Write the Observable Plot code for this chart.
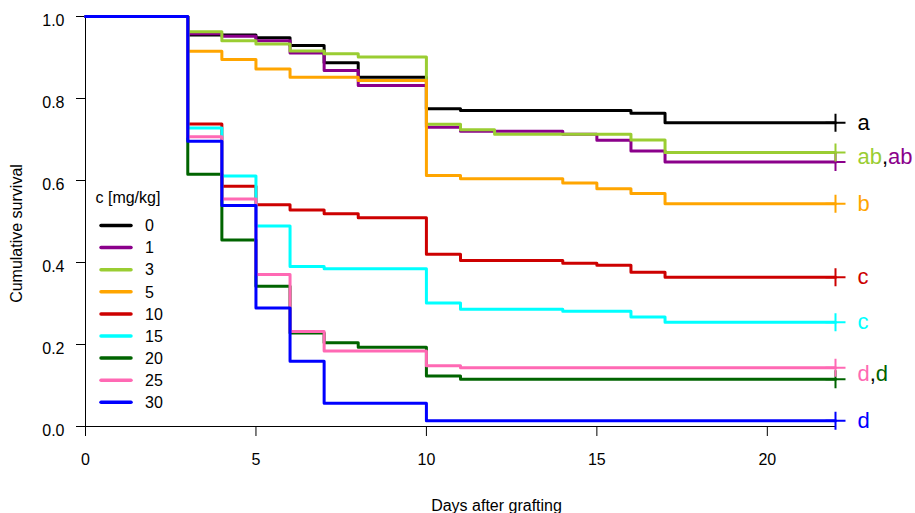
<!DOCTYPE html>
<html><head><meta charset="utf-8">
<script src="https://cdn.jsdelivr.net/npm/d3@7"></script>
<script src="https://cdn.jsdelivr.net/npm/@observablehq/plot@0.6"></script>
<style>body{margin:0;background:#fff}#chart{width:915px;height:513px}</style>
</head><body><div id="chart"></div>
<script>
// Time points (days after grafting) at which survival steps
const days = [0, 3, 4, 5, 6, 7, 8, 10, 11, 12, 14, 15, 16, 17, 22];
// Concentrations c [mg/kg]
const conc = ["0", "1", "3", "5", "10", "15", "20", "25", "30"];
const colors = ["#000000", "#8B008B", "#9ACD32", "#FFA500", "#CD0000", "#00FFFF", "#006400", "#FF69B4", "#0000FF"];
// Cumulative survival per concentration
const s0  = [1, 0.955, 0.955, 0.948, 0.929, 0.887, 0.852, 0.775, 0.771, 0.771, 0.771, 0.771, 0.764, 0.741, 0.741];
const s1  = [1, 0.958, 0.952, 0.941, 0.911, 0.868, 0.832, 0.730, 0.720, 0.720, 0.713, 0.698, 0.672, 0.645, 0.645];
const s3  = [1, 0.963, 0.941, 0.933, 0.916, 0.909, 0.901, 0.737, 0.724, 0.713, 0.713, 0.713, 0.699, 0.668, 0.668];
const s5  = [1, 0.915, 0.895, 0.872, 0.852, 0.852, 0.844, 0.612, 0.604, 0.604, 0.594, 0.580, 0.568, 0.543, 0.543];
const s10 = [1, 0.738, 0.586, 0.541, 0.528, 0.519, 0.509, 0.420, 0.405, 0.405, 0.398, 0.393, 0.376, 0.364, 0.364];
const s15 = [1, 0.728, 0.611, 0.489, 0.390, 0.385, 0.385, 0.301, 0.286, 0.286, 0.281, 0.281, 0.267, 0.254, 0.254];
const s20 = [1, 0.615, 0.455, 0.342, 0.228, 0.204, 0.193, 0.123, 0.115, 0.115, 0.115, 0.115, 0.115, 0.115, 0.115];
const s25 = [1, 0.707, 0.555, 0.371, 0.232, 0.184, 0.184, 0.148, 0.143, 0.143, 0.143, 0.143, 0.143, 0.143, 0.143];
const s30 = [1, 0.696, 0.539, 0.289, 0.159, 0.057, 0.057, 0.014, 0.014, 0.014, 0.014, 0.014, 0.014, 0.014, 0.014];
const series = [s0, s1, s3, s5, s10, s15, s20, s25, s30];
// Significance letters, grouped as printed at the curve ends
const labelGroups = [["0"], ["3", "1"], ["5"], ["10"], ["15"], ["25", "20"], ["30"]];
const letters = ["a", "ab", "ab", "b", "c", "c", "d", "d", "d"];
const xTicks = [0, 5, 10, 15, 20];
const yTicks = [0, 0.2, 0.4, 0.6, 0.8, 1.0];

const FONT = "'Liberation Sans', Arial, sans-serif";
const colorOf = Object.fromEntries(conc.map((c, i) => [c, colors[i]]));
const letterOf = Object.fromEntries(conc.map((c, i) => [c, letters[i]]));

const rows = [];
conc.forEach((c, i) => days.forEach((d, j) => rows.push({c, day: d, s: series[i][j]})));
const lastRows = conc.map((c, i) => ({c, day: days[days.length - 1], s: series[i][days.length - 1]}));
const lastOf = Object.fromEntries(lastRows.map(r => [r.c, r.s]));

const plusSymbol = {draw(ctx) { ctx.moveTo(-10, 0); ctx.lineTo(10, 0); ctx.moveTo(0, -9); ctx.lineTo(0, 9); }};

// text measurement for composed labels
const cv = document.createElement("canvas").getContext("2d");
cv.font = "22px " + FONT;
const tw = t => cv.measureText(t).width;

const labelMarks = [];
labelGroups.forEach(g => {
  const y = d3.mean(g, c => lastOf[c]);
  let off = 22;
  g.forEach((c, k) => {
    if (k > 0) {
      labelMarks.push(Plot.text([{day: 22, s: y}], {x: "day", y: "s", text: () => ",", fill: "#000", dx: off, textAnchor: "start", lineAnchor: "middle", fontSize: 22}));
      off += tw(",");
    }
    const t = letterOf[c];
    labelMarks.push(Plot.text([{day: 22, s: y}], {x: "day", y: "s", text: () => t, fill: colorOf[c], dx: off, textAnchor: "start", lineAnchor: "middle", fontSize: 22}));
    off += tw(t);
  });
});

const chart = Plot.plot({
  width: 915, height: 513,
  marginLeft: 85, marginRight: 80, marginTop: 16, marginBottom: 87,
  style: {fontFamily: FONT, fontSize: "16px", background: "#fff", color: "#000", overflow: "visible"},
  x: {domain: [0, 22]},
  y: {domain: [0, 1]},
  color: {domain: conc, range: colors},
  marks: [
    Plot.ruleY([0], {x1: 0, x2: 22, stroke: "#000"}),
    Plot.ruleX([0], {y1: 0, y2: 1, stroke: "#000"}),
    Plot.axisX({ticks: xTicks, tickSize: 10, tickPadding: 17, label: null, fontSize: 16}),
    Plot.axisY({ticks: yTicks, tickSize: 9, label: null, text: null}),
    Plot.text(yTicks, {x: 0, y: d => d, text: d3.format(".1f"), textAnchor: "end", dx: -21, dy: 4, lineAnchor: "middle", fontSize: 16}),
    Plot.line(rows, {x: "day", y: "s", z: "c", stroke: "c", curve: "step-after", strokeWidth: 3}),
    Plot.dot(lastRows, {x: "day", y: "s", stroke: "c", fill: "none", symbol: plusSymbol, strokeWidth: 2}),
    ...labelMarks,
    Plot.text(["Days after grafting"], {frameAnchor: "bottom", dx: 36, dy: 79, textAnchor: "middle", lineAnchor: "middle", fontSize: 16}),
    Plot.text(["Cumulative survival"], {frameAnchor: "left", rotate: -90, dx: -69, dy: 12, textAnchor: "middle", lineAnchor: "middle", fontSize: 16})
  ]
});
document.getElementById("chart").appendChild(chart);

// legend inside the plot area
const svg = d3.select(chart);
const lg = svg.append("g").attr("font-family", FONT).attr("font-size", 16).attr("text-anchor", "start");
lg.append("text").attr("x", 95.5).attr("y", 203).text("c [mg/kg]");
conc.forEach((c, i) => {
  const y = 225.5 + i * 22.1;
  lg.append("line").attr("x1", 101).attr("x2", 131).attr("y1", y).attr("y2", y)
    .attr("stroke", colorOf[c]).attr("stroke-width", 3.5).attr("stroke-linecap", "round");
  lg.append("text").attr("x", 145).attr("y", y).attr("dy", "0.36em").text(c);
});
</script></body></html>
